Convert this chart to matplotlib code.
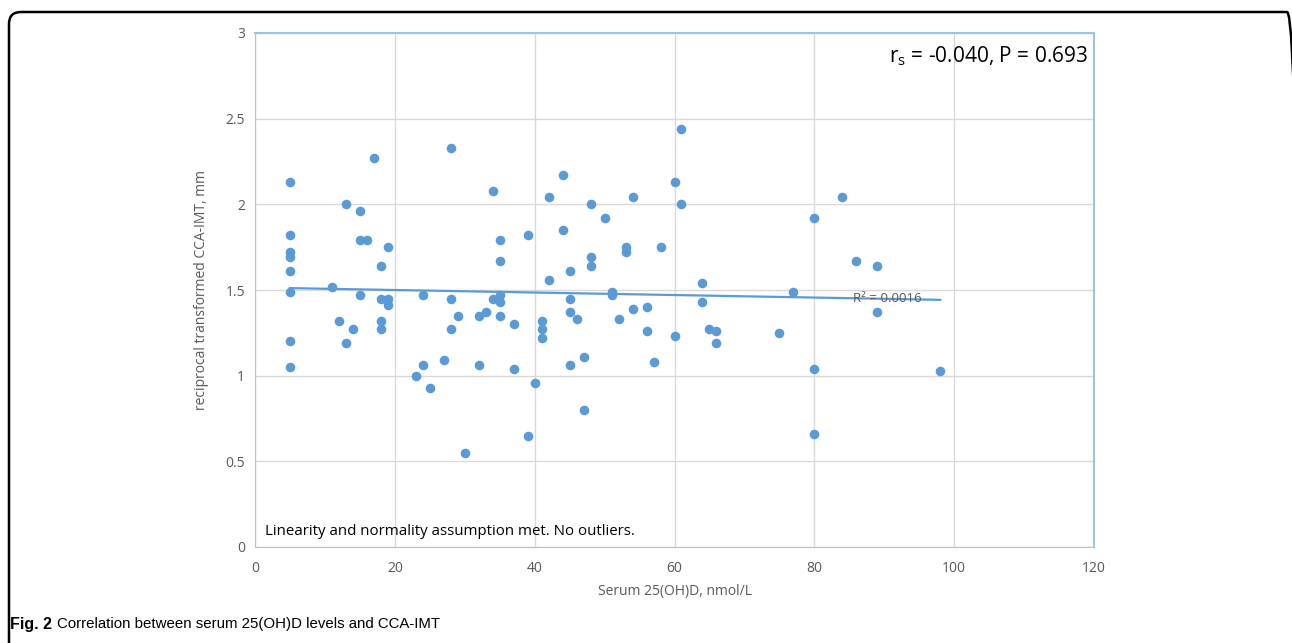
import numpy as np
import matplotlib.pyplot as plt
from matplotlib.patches import FancyBboxPatch

# serum 25(OH)D (nmol/L) and reciprocal transformed CCA-IMT (mm)
vitd = [5, 5, 5, 5, 5, 5, 5, 5,
        11, 12, 13, 13, 14, 15, 15, 15, 16, 17,
        18, 18, 18, 18, 19, 19, 19,
        23, 24, 24, 25, 27, 28, 28, 28, 29, 30,
        32, 32, 33, 34, 34, 35, 35, 35, 35, 35,
        37, 37, 39, 39, 40, 41, 41, 41, 42, 42,
        44, 44, 45, 45, 45, 45, 46, 47, 47, 48, 48, 48,
        50, 51, 51, 52, 53, 53, 54, 54, 56, 56, 57, 58,
        60, 60, 61, 61, 64, 64, 65, 66, 66,
        75, 77, 80, 80, 80, 84, 86, 89, 89, 98]
imt = [2.13, 1.82, 1.72, 1.69, 1.61, 1.49, 1.20, 1.05,
       1.52, 1.32, 2.00, 1.19, 1.27, 1.96, 1.79, 1.47, 1.79, 2.27,
       1.64, 1.45, 1.32, 1.27, 1.75, 1.45, 1.41,
       1.00, 1.47, 1.06, 0.93, 1.09, 2.33, 1.45, 1.27, 1.35, 0.55,
       1.35, 1.06, 1.37, 2.08, 1.45, 1.79, 1.67, 1.47, 1.43, 1.35,
       1.30, 1.04, 1.82, 0.65, 0.96, 1.32, 1.27, 1.22, 2.04, 1.56,
       2.17, 1.85, 1.61, 1.45, 1.37, 1.06, 1.33, 1.11, 0.80, 2.00, 1.69, 1.64,
       1.92, 1.49, 1.47, 1.33, 1.75, 1.72, 2.04, 1.39, 1.40, 1.26, 1.08, 1.75,
       2.13, 1.23, 2.44, 2.00, 1.54, 1.43, 1.27, 1.26, 1.19,
       1.25, 1.49, 1.92, 1.04, 0.66, 2.04, 1.67, 1.64, 1.37, 1.03]

x_ticks = [0, 20, 40, 60, 80, 100, 120]
y_ticks = [0, 0.5, 1, 1.5, 2, 2.5, 3]

blue = "#5b9bd5"
tick_grey = "#595959"

plt.rcParams['font.family'] = ['Open Sans', 'DejaVu Sans']

fig = plt.figure(figsize=(12.92, 6.43), dpi=100)
ax = fig.add_axes([255 / 1292, 1 - 547 / 643, 839 / 1292, 514 / 643])

ax.scatter(vitd, imt, s=48, color=blue, zorder=3, linewidths=0)

# linear trendline fitted to the points
slope, icpt = np.polyfit(vitd, imt, 1)
xs = np.array([min(vitd), max(vitd)])
ax.plot(xs, slope * xs + icpt, color=blue, lw=1.6, zorder=2)
ax.text(85.6, slope * 89 + icpt, "R² = 0.0016", fontsize=9.5, color="#595959",
        va="center", ha="left", zorder=4)

ax.set_xlim(0, 120)
ax.set_ylim(0, 3)
ax.set_xticks(x_ticks)
ax.set_yticks(y_ticks)
ax.set_xticklabels([str(v) for v in x_ticks])
ax.set_yticklabels([f"{v:g}" for v in y_ticks])
ax.tick_params(length=0, labelsize=10, labelcolor=tick_grey)
ax.tick_params(axis="x", pad=10)
ax.tick_params(axis="y", pad=7)
ax.grid(True, color="#d9d9d9", lw=1)
ax.set_axisbelow(True)
for side in ["left", "bottom"]:
    ax.spines[side].set_color("#bfbfbf")
for side in ["top", "right"]:
    ax.spines[side].set_color("#9dc3e6")
    ax.spines[side].set_linewidth(1.5)

ax.set_xlabel("Serum 25(OH)D, nmol/L", fontsize=10, color=tick_grey, labelpad=6)
ax.set_ylabel("reciprocal transformed CCA-IMT, mm", fontsize=10, color=tick_grey, labelpad=12)

ax.text(0.993, 0.955, r"r$_\mathregular{s}$ = -0.040, P = 0.693", transform=ax.transAxes,
        fontsize=15, ha="right", va="center", color="black")
ax.text(0.012, 0.03, "Linearity and normality assumption met. No outliers.",
        transform=ax.transAxes, fontsize=10.8, ha="left", va="center", color="black")

# caption: bold label followed by regular text
cap_font = ['Liberation Sans', 'DejaVu Sans']
cap_y = 1 - 624 / 643
lab = fig.text(10 / 1292, cap_y, "Fig. 2", fontsize=11.5, fontweight="bold",
               ha="left", va="center", family=cap_font)
fig.canvas.draw()
bb = lab.get_window_extent()
fig.text((bb.x1 + 5) / 1292, cap_y, "Correlation between serum 25(OH)D levels and CCA-IMT",
         fontsize=10.8, ha="left", va="center", family=cap_font)

# panel frame (only top and left edges visible)
frame = FancyBboxPatch((9, -60), 1290, 643 - 12 + 60,
                       boxstyle="round,pad=0,rounding_size=12",
                       transform=None, fill=False, edgecolor="black", lw=1.8)
fig.patches.append(frame)

fig.savefig("out.png", dpi=100)
